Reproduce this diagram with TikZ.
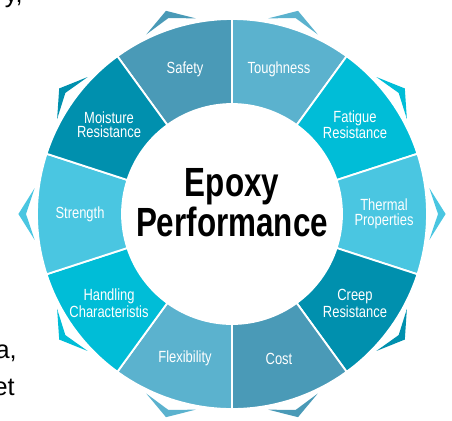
\documentclass[tikz,border=0pt]{standalone}
\usepackage{fontspec}
\setmainfont{Liberation Sans}
\newfontfamily\labfont{Liberation Sans}[FakeStretch=0.8]
\newfontfamily\titlefont{Liberation Sans}[FakeStretch=0.77]
\definecolor{steel}{HTML}{4A9AB7}
\definecolor{sky}{HTML}{5BB2CE}
\definecolor{cyanish}{HTML}{00BDD7}
\definecolor{pale}{HTML}{4AC6E1}
\definecolor{teal}{HTML}{0090AE}

\begin{document}
\begin{tikzpicture}[
    seg/.style={draw=white, line width=1.3pt},
    lbl/.style={
      text=white,
      align=center,
      inner sep=0pt,
      font=\labfont\fontsize{11.5}{10.5}\selectfont
    },
    frag/.style={anchor=base east, inner sep=0pt, font=\fontsize{18}{18}\selectfont}
  ]
  \useasboundingbox (-5.8,-5.15) rectangle (5.5,5.35);

  % ring segments
  \filldraw[seg, fill=steel]   (90:2.75) -- (90:4.875) arc (90:126:4.875) -- (126:2.75) arc (126:90:2.75) -- cycle;
  \filldraw[seg, fill=sky]     (54:2.75) -- (54:4.875) arc (54:90:4.875) -- (90:2.75) arc (90:54:2.75) -- cycle;
  \filldraw[seg, fill=cyanish] (18:2.75) -- (18:4.875) arc (18:54:4.875) -- (54:2.75) arc (54:18:2.75) -- cycle;
  \filldraw[seg, fill=pale]    (-18:2.75) -- (-18:4.875) arc (-18:18:4.875) -- (18:2.75) arc (18:-18:2.75) -- cycle;
  \filldraw[seg, fill=teal]    (-54:2.75) -- (-54:4.875) arc (-54:-18:4.875) -- (-18:2.75) arc (-18:-54:2.75) -- cycle;
  \filldraw[seg, fill=steel]   (-90:2.75) -- (-90:4.875) arc (-90:-54:4.875) -- (-54:2.75) arc (-54:-90:2.75) -- cycle;
  \filldraw[seg, fill=sky]     (-126:2.75) -- (-126:4.875) arc (-126:-90:4.875) -- (-90:2.75) arc (-90:-126:2.75) -- cycle;
  \filldraw[seg, fill=cyanish] (-162:2.75) -- (-162:4.875) arc (-162:-126:4.875) -- (-126:2.75) arc (-126:-162:2.75) -- cycle;
  \filldraw[seg, fill=pale]    (162:2.75) -- (162:4.875) arc (162:198:4.875) -- (198:2.75) arc (198:162:2.75) -- cycle;
  \filldraw[seg, fill=teal]    (126:2.75) -- (126:4.875) arc (126:162:4.875) -- (162:2.75) arc (162:126:2.75) -- cycle;

  % chevrons
  \fill[steel]   (100.5:4.975) -- (108:5.34) -- (115.5:4.975) -- (108:5.15) -- cycle;
  \fill[sky]     (64.5:4.975) -- (72:5.34) -- (79.5:4.975) -- (72:5.15) -- cycle;
  \fill[cyanish] (28.5:4.975) -- (36:5.34) -- (43.5:4.975) -- (36:5.15) -- cycle;
  \fill[pale]    (-7.5:4.975) -- (0:5.34) -- (7.5:4.975) -- (0:5.15) -- cycle;
  \fill[teal]    (-43.5:4.975) -- (-36:5.34) -- (-28.5:4.975) -- (-36:5.15) -- cycle;
  \fill[steel]   (-79.5:4.975) -- (-72:5.34) -- (-64.5:4.975) -- (-72:5.15) -- cycle;
  \fill[sky]     (-115.5:4.975) -- (-108:5.34) -- (-100.5:4.975) -- (-108:5.15) -- cycle;
  \fill[cyanish] (-151.5:4.975) -- (-144:5.34) -- (-136.5:4.975) -- (-144:5.15) -- cycle;
  \fill[pale]    (172.5:4.975) -- (180:5.34) -- (187.5:4.975) -- (180:5.15) -- cycle;
  \fill[teal]    (136.5:4.975) -- (144:5.34) -- (151.5:4.975) -- (144:5.15) -- cycle;

  % labels
  \node (safety)   at (108:3.8)  [lbl] {Safety};
  \node (tough)    at (72:3.8)   [lbl] {Toughness};
  \node (fatigue)  at (36:3.8)   [lbl] {Fatigue\\Resistance};
  \node (thermal)  at (0:3.8)    [lbl] {Thermal\\Properties};
  \node (creep)    at (-36:3.8)  [lbl] {Creep\\Resistance};
  \node (cost)     at (-72:3.8)  [lbl] {Cost};
  \node (flex)     at (-108:3.8) [lbl] {Flexibility};
  \node (handling) at (-144:3.8) [lbl] {Handling\\Characteristis};
  \node (strength) at (180:3.8)  [lbl] {Strength};
  \node (moisture) at (144:3.8)  [lbl] {Moisture\\Resistance};

  \node (epoxy) at (0,0.28) [align=center, inner sep=0pt,
    font=\titlefont\bfseries\fontsize{29}{25}\selectfont] {Epoxy\\Performance};

  % cut-off text at the left edge
  \node (fy) at (-5.225,5.30)  [frag] {y,};
  \node (fa) at (-5.375,-3.6)  [frag] {a,};
  \node (fe) at (-5.425,-4.525) [frag] {et};

\end{tikzpicture}
\end{document}
